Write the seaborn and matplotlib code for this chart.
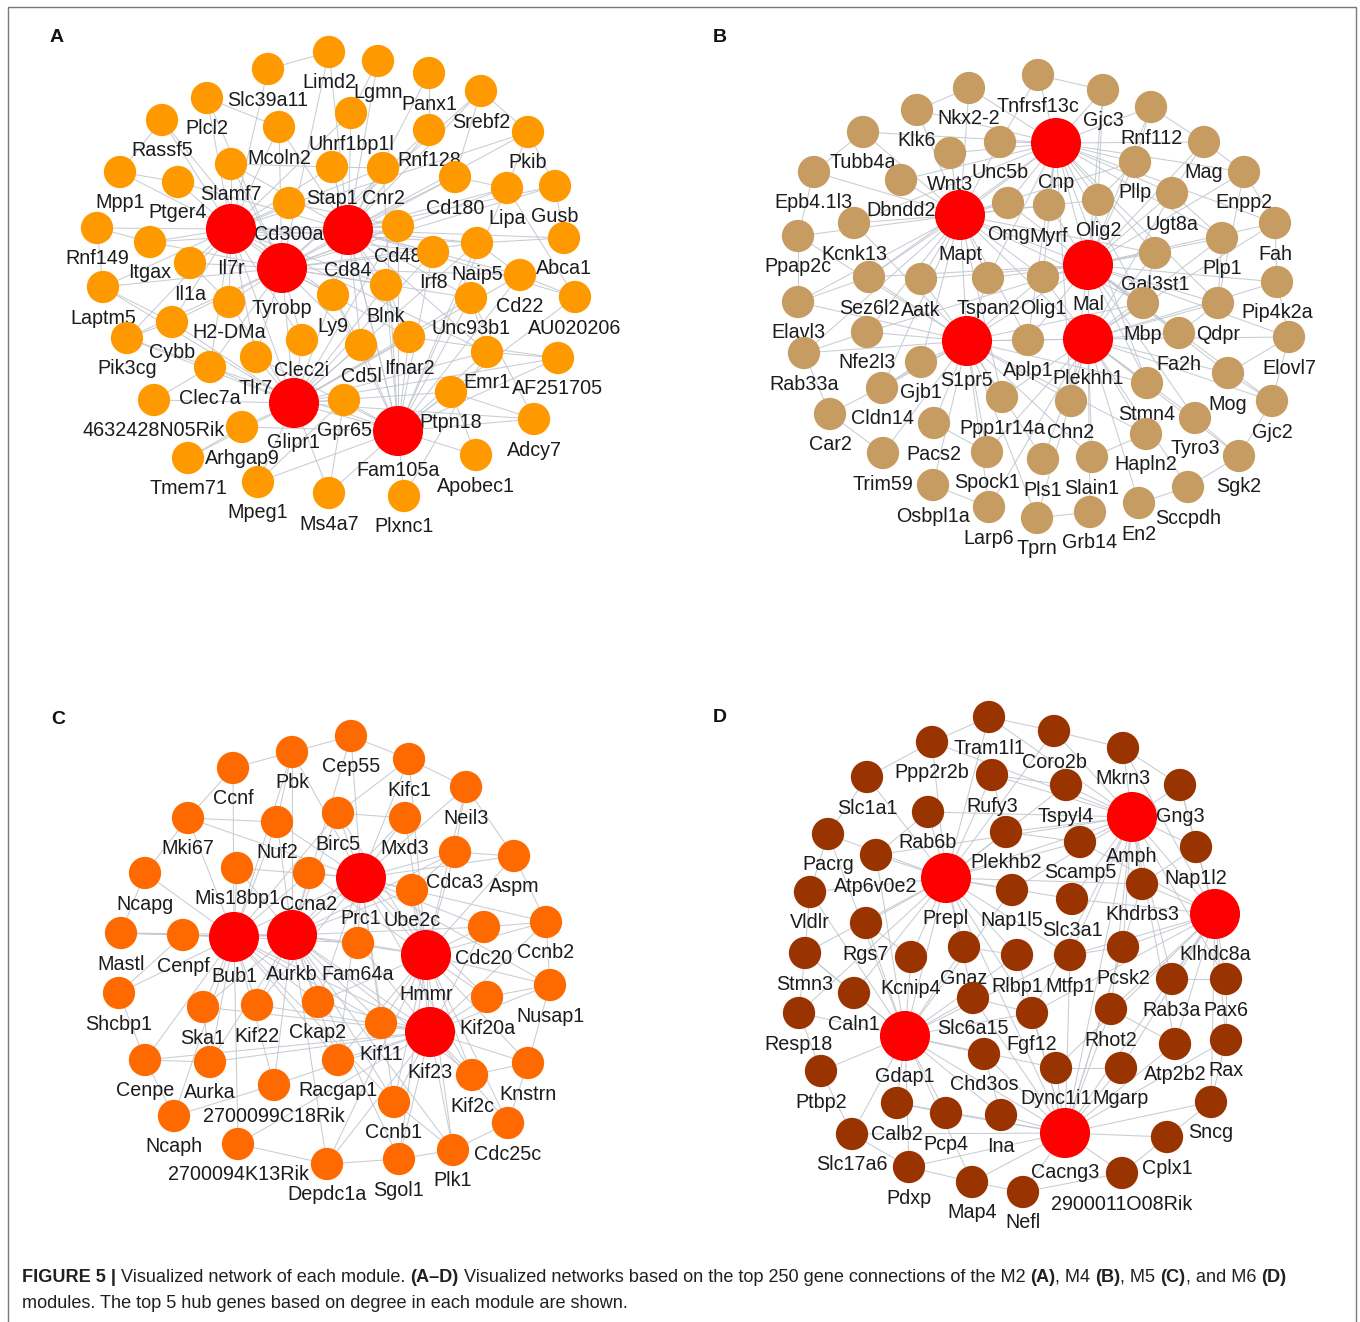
import numpy as np
import pandas as pd
import matplotlib
matplotlib.use("Agg")
import matplotlib.pyplot as plt
import seaborn as sns
from matplotlib.collections import LineCollection
from matplotlib.patches import Rectangle
from matplotlib import font_manager

sns.set_theme(style="white")
plt.rcParams["font.family"] = ["Liberation Sans", "DejaVu Sans"]

# ---------------- Module M2 (panel A) ----------------
A_GENES = ["Limd2", "Lgmn", "Panx1", "Srebf2", "Slc39a11", "Plcl2", "Rassf5", "Pkib",
           "Uhrf1bp1l", "Rnf128", "Mcoln2", "Slamf7", "Stap1", "Cnr2", "Cd180", "Lipa",
           "Gusb", "Mpp1", "Ptger4", "Cd300a", "Cd48", "Rnf149", "Itgax", "Il1a", "Abca1",
           "Il7r", "Cd84", "Tyrobp", "Irf8", "Naip5", "Cd22", "Blnk", "Ly9", "H2-DMa",
           "Laptm5", "Unc93b1", "AU020206", "Cybb", "Pik3cg", "Clec2i", "Cd5l", "Ifnar2",
           "Tlr7", "Clec7a", "Emr1", "AF251705", "4632428N05Rik", "Glipr1", "Gpr65",
           "Ptpn18", "Arhgap9", "Fam105a", "Adcy7", "Tmem71", "Apobec1", "Mpeg1", "Ms4a7",
           "Plxnc1"]
A_X = [329, 378, 429, 481, 268, 207, 162, 528, 351, 429, 279, 231, 332, 383, 455, 507,
       555, 120, 178, 289, 398, 97, 150, 190, 564, 231, 348, 282, 433, 477, 520, 386, 333,
       229, 103, 471, 575, 172, 127, 302, 361, 409, 256, 210, 487, 558, 154, 294, 344, 451,
       242, 398, 534, 188, 476, 258, 329, 404]
A_Y = [52, 61, 73, 91, 69, 98, 120, 132, 113, 130, 127, 164, 167, 168, 177, 188, 186, 172,
       182, 203, 226, 228, 242, 263, 238, 229, 230, 268, 252, 243, 275, 285, 295, 302, 287,
       298, 297, 322, 338, 340, 345, 337, 357, 367, 352, 358, 400, 403, 400, 392, 427, 431,
       419, 458, 455, 482, 493, 496]
A_HUBS = ["Il7r", "Cd84", "Tyrobp", "Glipr1", "Fam105a"]
A_LINKS = {
    "Il7r": "Slc39a11 Plcl2 Rassf5 Mcoln2 Slamf7 Mpp1 Ptger4 Rnf149 Itgax Il1a Laptm5 Cybb "
            "Pik3cg H2-DMa Clec7a Tlr7 Cd300a Stap1 Uhrf1bp1l Cnr2 Cd48 Irf8 Naip5 Ly9 Blnk "
            "Clec2i Emr1 Pkib",
    "Cd84": "Limd2 Lgmn Panx1 Srebf2 Uhrf1bp1l Rnf128 Stap1 Cnr2 Cd180 Lipa Gusb Pkib Cd48 "
            "Irf8 Naip5 Abca1 Cd22 Unc93b1 Blnk Ly9 Ifnar2 Cd5l Emr1 AU020206 Mcoln2 Slamf7 "
            "Ptger4 Itgax",
    "Tyrobp": "Slamf7 Mcoln2 Plcl2 Rassf5 Itgax Il1a Laptm5 Cybb Pik3cg H2-DMa Clec2i Tlr7 "
              "Clec7a Ly9 Blnk Cd5l Ifnar2 Cd48 Irf8 Naip5 Cd22 Unc93b1 Lipa Gusb Cd180 "
              "Rnf128 Srebf2 Limd2",
    "Glipr1": "Tlr7 Clec7a Arhgap9 4632428N05Rik Tmem71 Mpeg1 Ms4a7 Gpr65 Cd5l Clec2i Ly9 "
              "Blnk Ifnar2 Unc93b1 Emr1 Ptpn18 Cybb Pik3cg H2-DMa Laptm5 Cd48 Irf8 Naip5 "
              "Cd22 AF251705 Adcy7",
    "Fam105a": "Gpr65 Ptpn18 Emr1 Adcy7 Apobec1 Plxnc1 Ms4a7 Mpeg1 Arhgap9 Clec7a Tlr7 Cd5l "
               "Ifnar2 Blnk Ly9 Irf8 Unc93b1 Cd22 AU020206 AF251705 Naip5 Cd48 Lipa Stap1 Cnr2",
}
A_PAIRS = [("Il7r", "Cd84"), ("Il7r", "Tyrobp"), ("Cd84", "Tyrobp"), ("Tyrobp", "Glipr1"),
           ("Glipr1", "Fam105a"), ("Cd84", "Fam105a"), ("Il7r", "Glipr1"),
           ("Rassf5", "Mpp1"), ("Mpp1", "Ptger4"), ("Rnf149", "Itgax"), ("Laptm5", "Cybb"),
           ("Pik3cg", "Cybb"), ("Pik3cg", "Clec7a"), ("Pkib", "Lipa"), ("Pkib", "Gusb"),
           ("Srebf2", "Pkib"), ("Gusb", "Abca1"), ("Cd22", "AU020206"), ("Emr1", "AF251705"),
           ("Adcy7", "Ptpn18"), ("Apobec1", "Ptpn18"), ("Plcl2", "Mcoln2"),
           ("Slc39a11", "Limd2"), ("Lgmn", "Uhrf1bp1l"), ("Panx1", "Rnf128"), ("Cd180", "Lipa"),
           ("Naip5", "Cd22"), ("Unc93b1", "Emr1"), ("Tmem71", "Arhgap9"),
           ("4632428N05Rik", "Clec7a"), ("Ms4a7", "Gpr65"), ("Plxnc1", "Emr1"),
           ("Mpeg1", "Gpr65"), ("Il1a", "H2-DMa"), ("Ly9", "Cd5l"), ("Blnk", "Ifnar2"),
           ("Stap1", "Cnr2"), ("Slamf7", "Stap1"), ("Cd300a", "Cd48"), ("Laptm5", "Rnf149"),
           ("AU020206", "Lipa"), ("AF251705", "Ifnar2"), ("Adcy7", "Unc93b1"),
           ("Srebf2", "Cd180"), ("Abca1", "Naip5")]

# ---------------- Module M4 (panel B) ----------------
B_GENES = ["Tnfrsf13c", "Nkx2-2", "Gjc3", "Rnf112", "Klk6", "Tubb4a", "Unc5b", "Cnp", "Mag",
           "Wnt3", "Epb4.1l3", "Dbndd2", "Pllp", "Enpp2", "Ugt8a", "Omg", "Myrf", "Olig2",
           "Mapt", "Kcnk13", "Ppap2c", "Plp1", "Fah", "Gal3st1", "Mal", "Sez6l2", "Aatk",
           "Tspan2", "Olig1", "Pip4k2a", "Elavl3", "Mbp", "Qdpr", "Nfe2l3", "S1pr5", "Aplp1",
           "Plekhh1", "Fa2h", "Elovl7", "Rab33a", "Gjb1", "Cldn14", "Mog", "Stmn4",
           "Ppp1r14a", "Chn2", "Car2", "Gjc2", "Pacs2", "Tyro3", "Hapln2", "Trim59", "Spock1",
           "Pls1", "Slain1", "Sgk2", "Osbpl1a", "Sccpdh", "Larp6", "En2", "Grb14", "Tprn"]
B_X = [1038, 969, 1103, 1151, 917, 863, 1000, 1056, 1204, 950, 814, 901, 1135, 1244, 1172,
       1008, 1049, 1098, 960, 854, 798, 1222, 1275, 1155, 1088, 869, 921, 988, 1043, 1277,
       798, 1143, 1218, 867, 967, 1028, 1088, 1179, 1289, 804, 921, 882, 1228, 1147, 1002,
       1071, 830, 1272, 934, 1195, 1146, 883, 987, 1043, 1092, 1239, 933, 1188, 989, 1139,
       1090, 1037]
B_Y = [75, 88, 90, 107, 110, 132, 142, 143, 142, 153, 172, 180, 162, 172, 193, 203, 205, 200,
       215, 223, 236, 238, 223, 253, 265, 277, 279, 278, 277, 282, 302, 303, 303, 332, 341,
       340, 339, 333, 337, 353, 362, 388, 373, 383, 397, 401, 414, 401, 423, 418, 434, 453,
       452, 459, 457, 456, 485, 487, 507, 503, 512, 518]
B_HUBS = ["Cnp", "Mapt", "Mal", "S1pr5", "Plekhh1"]
B_LINKS = {
    "Cnp": "Tnfrsf13c Nkx2-2 Gjc3 Rnf112 Klk6 Unc5b Wnt3 Mag Pllp Ugt8a Omg Myrf Olig2 Enpp2 "
           "Fah Plp1 Gal3st1 Tubb4a Dbndd2 Kcnk13 Tspan2 Olig1 Mbp Qdpr Aplp1 Stmn4 Chn2 Sez6l2",
    "Mapt": "Klk6 Tubb4a Epb4.1l3 Dbndd2 Kcnk13 Ppap2c Wnt3 Unc5b Omg Myrf Sez6l2 Aatk Tspan2 "
            "Olig1 Elavl3 Nfe2l3 Rab33a Gjb1 Aplp1 Ppp1r14a Cldn14 Nkx2-2 Pllp Gal3st1 Olig2 Mbp",
    "Mal": "Olig2 Ugt8a Gal3st1 Plp1 Fah Pip4k2a Qdpr Mbp Fa2h Elovl7 Mog Stmn4 Myrf Omg Olig1 "
           "Tspan2 Aplp1 Chn2 Pllp Mag Enpp2 Rnf112 Gjc3 Tyro3 Gjc2 Aatk Sez6l2 Nfe2l3",
    "S1pr5": "Sez6l2 Aatk Tspan2 Olig1 Nfe2l3 Gjb1 Cldn14 Car2 Pacs2 Trim59 Ppp1r14a Spock1 "
             "Osbpl1a Larp6 Pls1 Chn2 Aplp1 Elavl3 Rab33a Kcnk13 Ppap2c Tprn Slain1 Hapln2 "
             "Stmn4 Mbp",
    "Plekhh1": "Mbp Qdpr Fa2h Mog Stmn4 Tyro3 Hapln2 Chn2 Slain1 Pls1 Grb14 En2 Sccpdh Sgk2 "
               "Gjc2 Elovl7 Pip4k2a Gal3st1 Olig1 Aplp1 Ppp1r14a Spock1 Tprn Larp6 Plp1 Fah Ugt8a",
}
B_PAIRS = [("Cnp", "Mapt"), ("Cnp", "Mal"), ("Mapt", "Mal"), ("Mapt", "S1pr5"),
           ("Mal", "Plekhh1"), ("S1pr5", "Plekhh1"), ("Mal", "S1pr5"), ("Mapt", "Plekhh1"),
           ("Tnfrsf13c", "Gjc3"), ("Nkx2-2", "Klk6"), ("Tubb4a", "Epb4.1l3"), ("Rnf112", "Mag"),
           ("Mag", "Enpp2"), ("Enpp2", "Fah"), ("Fah", "Pip4k2a"), ("Pip4k2a", "Elovl7"),
           ("Elovl7", "Gjc2"), ("Gjc2", "Sgk2"), ("Sgk2", "Sccpdh"), ("Sccpdh", "En2"),
           ("Grb14", "Tprn"), ("Larp6", "Osbpl1a"), ("Trim59", "Car2"), ("Car2", "Rab33a"),
           ("Elavl3", "Ppap2c"), ("Ppap2c", "Epb4.1l3"), ("Mag", "Ugt8a"), ("Plp1", "Qdpr"),
           ("Mog", "Gjc2"), ("Tyro3", "Sgk2"), ("Hapln2", "Slain1"), ("Pacs2", "Spock1"),
           ("Cldn14", "Gjb1"), ("Rab33a", "Nfe2l3"), ("Elavl3", "Sez6l2"), ("Olig2", "Pllp"),
           ("Gal3st1", "Mbp"), ("Fa2h", "Qdpr"), ("Ugt8a", "Plp1"), ("Rnf112", "Pllp"),
           ("Gjc3", "Olig2"), ("Tnfrsf13c", "Unc5b"), ("Enpp2", "Qdpr"), ("Elovl7", "Mog")]

# ---------------- Module M5 (panel C) ----------------
C_GENES = ["Cep55", "Pbk", "Kifc1", "Ccnf", "Neil3", "Mki67", "Nuf2", "Birc5", "Mxd3",
           "Cdca3", "Aspm", "Ncapg", "Mis18bp1", "Ccna2", "Prc1", "Ube2c", "Cdc20", "Ccnb2",
           "Mastl", "Cenpf", "Bub1", "Aurkb", "Fam64a", "Hmmr", "Shcbp1", "Ska1", "Kif22",
           "Ckap2", "Kif20a", "Nusap1", "Kif11", "Kif23", "Cenpe", "Aurka", "Racgap1",
           "Knstrn", "Kif2c", "2700099C18Rik", "Ccnb1", "Ncaph", "Cdc25c", "2700094K13Rik",
           "Plk1", "Sgol1", "Depdc1a"]
C_X = [351, 292, 409, 233, 466, 188, 277, 338, 405, 455, 514, 145, 237, 309, 361, 412, 484,
       546, 121, 183, 234, 292, 358, 426, 119, 203, 257, 318, 487, 550, 381, 430, 145, 210,
       338, 528, 472, 274, 394, 174, 508, 238, 453, 399, 327]
C_Y = [736, 752, 759, 768, 787, 818, 822, 813, 818, 852, 856, 873, 868, 873, 878, 890, 927,
       922, 933, 935, 937, 935, 943, 955, 993, 1007, 1005, 1002, 997, 985, 1023, 1032, 1060,
       1062, 1060, 1063, 1075, 1085, 1102, 1116, 1123, 1144, 1150, 1159, 1164]
C_HUBS = ["Prc1", "Bub1", "Aurkb", "Hmmr", "Kif23"]
C_LINKS = {
    "Prc1": "Cep55 Pbk Kifc1 Birc5 Mxd3 Nuf2 Ccna2 Ube2c Cdca3 Aspm Neil3 Cdc20 Ccnb2 Fam64a "
            "Ckap2 Kif11 Kif20a Nusap1 Kif22 Racgap1 Ccnb1 Kif2c Mis18bp1 Mki67",
    "Bub1": "Ccnf Mki67 Nuf2 Mis18bp1 Ncapg Mastl Cenpf Shcbp1 Ska1 Kif22 Cenpe Aurka Ncaph "
            "2700099C18Rik 2700094K13Rik Ckap2 Racgap1 Fam64a Ccna2 Birc5 Pbk Kif11 Ccnb1",
    "Aurkb": "Pbk Cep55 Birc5 Nuf2 Ccna2 Mis18bp1 Cenpf Mastl Ska1 Kif22 Ckap2 Fam64a Kif11 "
             "Racgap1 Aurka 2700099C18Rik Depdc1a Ccnb1 Sgol1 Plk1 Kif2c Ube2c Mxd3 Cdca3 Cdc20",
    "Hmmr": "Mxd3 Kifc1 Neil3 Cdca3 Aspm Ube2c Cdc20 Ccnb2 Kif20a Nusap1 Fam64a Ckap2 Kif11 "
            "Knstrn Kif2c Cdc25c Plk1 Ccnb1 Racgap1 Birc5 Ccna2 Depdc1a Sgol1",
    "Kif23": "Kif11 Racgap1 Ckap2 Kif22 Ska1 Fam64a Kif20a Nusap1 Knstrn Kif2c Cdc25c Plk1 "
             "Sgol1 Ccnb1 Depdc1a 2700099C18Rik 2700094K13Rik Aurka Cenpe Cdc20 Ccnb2 Ube2c",
}
C_PAIRS = [("Prc1", "Bub1"), ("Prc1", "Aurkb"), ("Bub1", "Aurkb"), ("Prc1", "Hmmr"),
           ("Hmmr", "Kif23"), ("Aurkb", "Kif23"), ("Aurkb", "Hmmr"), ("Bub1", "Kif23"),
           ("Cep55", "Pbk"), ("Pbk", "Ccnf"), ("Cep55", "Kifc1"), ("Kifc1", "Neil3"),
           ("Ccnf", "Mki67"), ("Mki67", "Ncapg"), ("Ncapg", "Mastl"), ("Mastl", "Cenpf"),
           ("Shcbp1", "Cenpf"), ("Cenpe", "Shcbp1"), ("Ncaph", "Cenpe"), ("Aspm", "Ccnb2"),
           ("Ccnb2", "Nusap1"), ("Nusap1", "Knstrn"), ("Knstrn", "Cdc25c"), ("Cdc25c", "Plk1"),
           ("Plk1", "Sgol1"), ("Sgol1", "Depdc1a"), ("Depdc1a", "2700094K13Rik"),
           ("Neil3", "Cdca3"), ("Aspm", "Cdca3"), ("Mki67", "Nuf2"), ("Birc5", "Mxd3"),
           ("Kifc1", "Birc5"), ("Pbk", "Nuf2"), ("Ska1", "Aurka"), ("Cenpe", "Aurka"),
           ("Kif20a", "Nusap1"), ("Knstrn", "Kif2c"), ("Ncaph", "2700099C18Rik"),
           ("Cdca3", "Ube2c"), ("Ccnb2", "Cdc20"), ("Ccnb1", "Plk1"), ("Neil3", "Aspm")]

# ---------------- Module M6 (panel D) ----------------
D_GENES = ["Tram1l1", "Coro2b", "Ppp2r2b", "Mkrn3", "Slc1a1", "Rufy3", "Tspyl4", "Gng3",
           "Amph", "Rab6b", "Pacrg", "Plekhb2", "Scamp5", "Nap1l2", "Atp6v0e2", "Prepl",
           "Vldlr", "Nap1l5", "Khdrbs3", "Slc3a1", "Klhdc8a", "Rgs7", "Stmn3", "Kcnip4", "Gnaz",
           "Rlbp1", "Mtfp1", "Pcsk2", "Rab3a", "Pax6", "Caln1", "Slc6a15", "Resp18", "Fgf12",
           "Rhot2", "Gdap1", "Chd3os", "Atp2b2", "Rax", "Ptbp2", "Dync1i1", "Mgarp", "Sncg",
           "Calb2", "Pcp4", "Ina", "Cacng3", "Slc17a6", "Cplx1", "Pdxp", "Map4", "Nefl",
           "2900011O08Rik"]
D_X = [989, 1054, 932, 1123, 867, 992, 1066, 1180, 1132, 928, 828, 1006, 1080, 1196, 876, 946,
       810, 1012, 1142, 1072, 1215, 866, 805, 911, 964, 1017, 1070, 1123, 1172, 1226, 854, 973,
       799, 1032, 1111, 905, 984, 1175, 1226, 821, 1056, 1121, 1211, 897, 946, 1001, 1065, 852,
       1167, 909, 972, 1023, 1122]
D_Y = [717, 731, 742, 748, 777, 775, 785, 785, 817, 812, 834, 832, 842, 847, 855, 878, 892,
       890, 884, 899, 914, 923, 953, 957, 947, 955, 955, 947, 979, 979, 993, 998, 1013, 1013,
       1009, 1036, 1054, 1044, 1040, 1071, 1068, 1068, 1102, 1103, 1113, 1115, 1133, 1134,
       1137, 1167, 1182, 1192, 1173]
D_HUBS = ["Amph", "Prepl", "Klhdc8a", "Gdap1", "Cacng3"]
D_LINKS = {
    "Amph": "Coro2b Mkrn3 Tspyl4 Gng3 Tram1l1 Rufy3 Plekhb2 Scamp5 Nap1l2 Khdrbs3 Slc3a1 "
            "Nap1l5 Pcsk2 Mtfp1 Rab3a Rhot2 Fgf12 Ppp2r2b Rab6b Atp6v0e2 Pax6 Atp2b2",
    "Prepl": "Ppp2r2b Slc1a1 Rab6b Pacrg Atp6v0e2 Vldlr Rgs7 Stmn3 Kcnip4 Gnaz Rlbp1 Nap1l5 "
             "Plekhb2 Rufy3 Tram1l1 Scamp5 Slc3a1 Mtfp1 Slc6a15 Caln1 Resp18 Fgf12 Tspyl4 "
             "Coro2b Khdrbs3",
    "Klhdc8a": "Nap1l2 Gng3 Khdrbs3 Pcsk2 Rab3a Pax6 Rax Atp2b2 Rhot2 Mgarp Sncg Slc3a1 "
               "Scamp5 Mkrn3 Mtfp1 Dync1i1 Fgf12",
    "Gdap1": "Caln1 Stmn3 Resp18 Ptbp2 Slc17a6 Calb2 Pcp4 Pdxp Map4 Ina Chd3os Slc6a15 Kcnip4 "
             "Rgs7 Vldlr Gnaz Rlbp1 Fgf12 Dync1i1 Nap1l5 Atp6v0e2 Pacrg Mtfp1",
    "Cacng3": "Ina Pcp4 Calb2 Map4 Nefl Pdxp 2900011O08Rik Cplx1 Sncg Mgarp Dync1i1 Chd3os "
              "Fgf12 Rhot2 Atp2b2 Slc6a15 Rlbp1 Mtfp1 Pcsk2 Slc17a6 Rax Khdrbs3",
}
D_PAIRS = [("Amph", "Prepl"), ("Amph", "Klhdc8a"), ("Prepl", "Gdap1"), ("Gdap1", "Cacng3"),
           ("Prepl", "Cacng3"), ("Klhdc8a", "Cacng3"), ("Amph", "Cacng3"),
           ("Tram1l1", "Coro2b"), ("Tram1l1", "Ppp2r2b"), ("Coro2b", "Mkrn3"),
           ("Mkrn3", "Gng3"), ("Slc1a1", "Ppp2r2b"), ("Slc1a1", "Pacrg"), ("Pacrg", "Vldlr"),
           ("Vldlr", "Stmn3"), ("Stmn3", "Resp18"), ("Resp18", "Ptbp2"), ("Ptbp2", "Slc17a6"),
           ("Slc17a6", "Pdxp"), ("Pdxp", "Map4"), ("Map4", "Nefl"), ("Nefl", "2900011O08Rik"),
           ("2900011O08Rik", "Cplx1"), ("Cplx1", "Sncg"), ("Sncg", "Rax"), ("Rax", "Pax6"),
           ("Pax6", "Rab3a"), ("Gng3", "Nap1l2"), ("Nap1l2", "Khdrbs3"), ("Rufy3", "Tspyl4"),
           ("Rab6b", "Atp6v0e2"), ("Rgs7", "Kcnip4"), ("Caln1", "Stmn3"), ("Calb2", "Pcp4"),
           ("Ina", "Chd3os"), ("Dync1i1", "Mgarp"), ("Rhot2", "Atp2b2"), ("Gnaz", "Rlbp1"),
           ("Mtfp1", "Pcsk2"), ("Plekhb2", "Scamp5"), ("Slc6a15", "Fgf12"), ("Rufy3", "Plekhb2")]

PANELS = [
    dict(letter="A", corner=(57, 38), genes=A_GENES, x=A_X, y=A_Y, hubs=A_HUBS,
         links=A_LINKS, pairs=A_PAIRS, color="#FF9900"),
    dict(letter="B", corner=(720, 38), genes=B_GENES, x=B_X, y=B_Y, hubs=B_HUBS,
         links=B_LINKS, pairs=B_PAIRS, color="#C69C63"),
    dict(letter="C", corner=(58, 719), genes=C_GENES, x=C_X, y=C_Y, hubs=C_HUBS,
         links=C_LINKS, pairs=C_PAIRS, color="#FF6A00"),
    dict(letter="D", corner=(720, 718), genes=D_GENES, x=D_X, y=D_Y, hubs=D_HUBS,
         links=D_LINKS, pairs=D_PAIRS, color="#993300"),
]

HUB_COLOR = "#FF0000"
EDGE_COLOR = "#c2c7cf"
TEXT_COLOR = "#1c1c1c"

W, H = 1360, 1322
fig = plt.figure(figsize=(W / 100, H / 100), dpi=100)
ax = fig.add_axes([0, 0, 1, 1])

for p in PANELS:
    df = pd.DataFrame({"gene": p["genes"], "x": p["x"], "y": p["y"]})
    df["kind"] = np.where(df["gene"].isin(p["hubs"]), "hub", "gene")
    pos = {g: (x, y) for g, x, y in zip(df["gene"], df["x"], df["y"])}

    # gene-gene connections
    segs = []
    for hub, neighbours in p["links"].items():
        for g in neighbours.split():
            if g in pos:
                segs.append([pos[hub], pos[g]])
    for a, b in p["pairs"]:
        if a in pos and b in pos:
            segs.append([pos[a], pos[b]])
    ax.add_collection(LineCollection(segs, colors=EDGE_COLOR, linewidths=0.75,
                                     alpha=0.9, zorder=1))

    # nodes
    sns.scatterplot(data=df, x="x", y="y", hue="kind", size="kind",
                    sizes={"hub": 1300, "gene": 540},
                    palette={"hub": HUB_COLOR, "gene": p["color"]},
                    linewidth=0, legend=False, ax=ax, zorder=3)

    # gene names below each node
    for r in df.itertuples():
        dy = 40 if r.kind == "hub" else 31
        ax.text(r.x, r.y + dy, r.gene, ha="center", va="center", fontsize=14.2,
                color=TEXT_COLOR, zorder=2)

    ax.text(p["corner"][0], p["corner"][1], p["letter"], ha="center", va="center",
            fontsize=14, fontweight="bold", color="#111111", zorder=4)

ax.set_xlim(0, W)
ax.set_ylim(H, 0)
ax.axis("off")

# outer frame
ax.add_patch(Rectangle((8, 7), 1348, 1340, fill=False, edgecolor="#7a7a7a",
                       linewidth=1.0, zorder=0, clip_on=False))

# caption
available = {f.name for f in font_manager.fontManager.ttflist}
cap_family = "Liberation Sans"

LINE1 = [("FIGURE 5 |", True), ("Visualized network of each module.", False), ("(A–D)", True),
         ("Visualized networks based on the top 250 gene connections of the M2", False),
         ("(A)", True), (", M4", False), ("(B)", True), (", M5", False), ("(C)", True),
         (", and M6", False), ("(D)", True)]
# a space precedes every run except the first one and the comma runs
SPACE_BEFORE = [False, True, True, True, True, False, True, False, True, False, True]
LINE2 = [("modules. The top 5 hub genes based on degree in each module are shown.", False)]

renderer = fig.canvas.get_renderer()


def run_width(txt, bold, size):
    t = ax.text(0, 0, txt, fontsize=size, family=cap_family,
                fontweight="bold" if bold else "normal")
    w = t.get_window_extent(renderer).width
    t.remove()
    return w


def space_width(size):
    return run_width("x x", False, size) - run_width("xx", False, size)


def draw_line(runs, spaces, x0, y, size):
    x = x0
    sw = space_width(size)
    for (txt, bold), sp in zip(runs, spaces):
        if sp:
            x += sw
        ax.text(x, y, txt, fontsize=size, family=cap_family, ha="left", va="center",
                fontweight="bold" if bold else "normal", color="#231f20", zorder=4)
        x += run_width(txt, bold, size)
    return x


base = 12.0
sw0 = space_width(base)
total = sum(run_width(t, b, base) for t, b in LINE1) + sw0 * sum(SPACE_BEFORE)
cap_size = base * (1290 - 22) / total
draw_line(LINE1, SPACE_BEFORE, 22, 1277, cap_size)
draw_line(LINE2, [False], 22, 1303, cap_size)

fig.savefig("out.png", dpi=100)
